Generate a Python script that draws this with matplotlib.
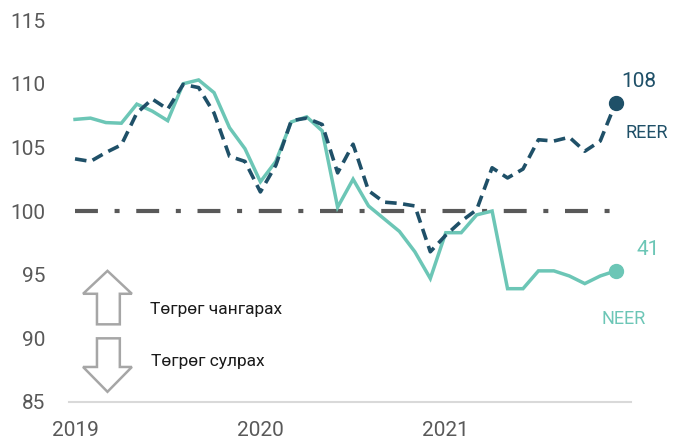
import numpy as np
import matplotlib.pyplot as plt
from matplotlib.patches import Polygon

plt.rcParams['font.family'] = ['Roboto', 'DejaVu Sans']

# monthly index, Jan 2019 - Dec 2021
neer = [107.2, 107.3, 106.95, 106.9, 108.4, 107.85, 107.1, 110.0, 110.3, 109.3, 106.55, 104.9,
        102.3, 103.9, 107.0, 107.4, 106.3, 100.3, 102.5, 100.4, 99.4, 98.4, 96.8, 94.7,
        98.3, 98.3, 99.7, 100.0, 93.9, 93.9, 95.3, 95.3, 94.9, 94.3, 94.9, 95.3]
reer = [104.1, 103.9, 104.6, 105.2, 107.7, 108.8, 108.0, 109.95, 109.7, 107.7, 104.3, 103.9,
        101.5, 103.6, 107.1, 107.3, 106.8, 103.0, 105.25, 101.6, 100.7, 100.6, 100.4, 96.8,
        98.1, 99.2, 100.1, 103.4, 102.6, 103.3, 105.6, 105.5, 105.8, 104.7, 105.5, 108.5]
year_labels = ['2019', '2020', '2021']
year_pos = [0, 12, 24]
yticks = [85, 90, 95, 100, 105, 110, 115]

c_neer = '#6cc6b6'
c_reer = '#1f5068'
grey = '#595959'

x = np.arange(len(neer))

fig = plt.figure(figsize=(6.75, 4.43), dpi=100)
ax = fig.add_axes([0.102, 0.0926, 0.833, 0.862])

ax.plot([0, len(x) - 1], [100, 100], color=grey, lw=3, dashes=(5.5, 4, 1.2, 4))
ax.plot(x, neer, color=c_neer, lw=2.5, solid_joinstyle='miter')
ax.plot(x, reer, color=c_reer, lw=2.6, dashes=(3.2, 1.8))
ax.plot(x[-1], neer[-1], 'o', color=c_neer, ms=10, clip_on=False)
ax.plot(x[-1], reer[-1], 'o', color=c_reer, ms=10, clip_on=False)

ax.text(x[-1] + 1.5, reer[-1] + 1.7, '108', color=c_reer, fontsize=15, ha='center', va='center')
ax.text(x[-1] + 2.0, reer[-1] - 2.4, 'REER', color=c_reer, fontsize=13, ha='center', va='center')
ax.text(x[-1] + 2.1, neer[-1] + 1.65, '41', color=c_neer, fontsize=15, ha='center', va='center')
ax.text(x[-1] + 0.5, neer[-1] - 3.8, 'NEER', color=c_neer, fontsize=13, ha='center', va='center')

# hollow arrows
up = [(1.42, 91.1), (1.42, 93.5), (0.52, 93.5), (2.1, 95.3), (3.68, 93.5), (2.9, 93.5), (2.9, 91.1)]
down = [(1.42, 90.0), (1.42, 87.75), (0.52, 87.75), (2.1, 85.8), (3.68, 87.75), (2.9, 87.75), (2.9, 90.0)]
for pts in (up, down):
    ax.add_patch(Polygon(pts, closed=True, facecolor='white', edgecolor='#a6a6a6', lw=1.8))
ax.text(4.85, 92.3, 'Төгрөг чангарах', fontsize=12.5, color='#1a1a1a', va='center')
ax.text(4.95, 88.2, 'Төгрөг сулрах', fontsize=12.5, color='#1a1a1a', va='center')

ax.set_xlim(-0.4, 36.0)
ax.set_ylim(85, 115)
ax.set_yticks(yticks)
ax.set_xticks(year_pos)
ax.set_xticklabels(year_labels)
ax.tick_params(axis='y', length=0, pad=17, labelsize=15, labelcolor=grey)
ax.tick_params(axis='x', length=0, pad=14, labelsize=15, labelcolor=grey)
for s in ['left', 'right', 'top']:
    ax.spines[s].set_visible(False)
ax.spines['bottom'].set_color('#d9d9d9')
ax.spines['bottom'].set_linewidth(1.5)

fig.savefig('out.png', dpi=100)
